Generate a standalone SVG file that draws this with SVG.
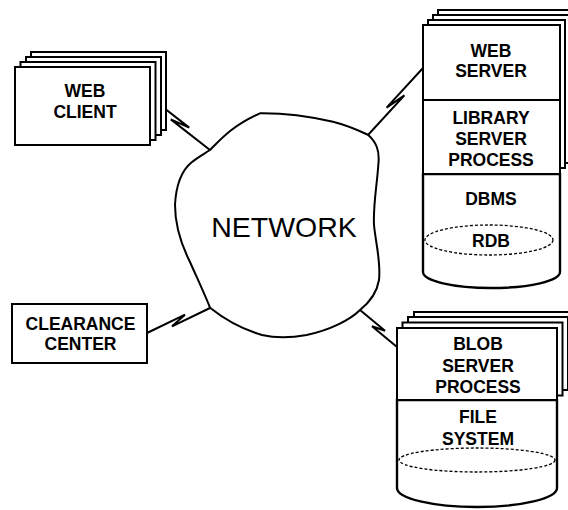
<svg xmlns="http://www.w3.org/2000/svg" width="568" height="510" viewBox="0 0 568 510">
<style>
.bx{fill:#fff;stroke:#000;stroke-width:2}
.cy{fill:#fff;stroke:#000;stroke-width:2.4}
.ln{fill:none;stroke:#000;stroke-width:2}
.ds{fill:none;stroke:#000;stroke-width:1.3;stroke-dasharray:3 2}
.lb{font-family:"Liberation Sans",Arial,sans-serif;font-weight:bold;font-size:17.5px;text-anchor:middle;fill:#000}
.nw{font-family:"Liberation Sans",Arial,sans-serif;font-size:28.5px;text-anchor:middle;fill:#000}
.cn{fill:none;stroke:#000;stroke-width:2;stroke-linejoin:miter}
</style>
<rect width="568" height="510" fill="#fff"/>
<g id="connectors">
<polyline class="cn" points="150,97 189.2,127.6 170.8,119.4 210,150"/>
<polyline class="cn" points="368,135 404.4,95.4 386.6,107.6 423,68"/>
<polyline class="cn" points="147,333 185,314.7 172,326.3 210,308"/>
<polyline class="cn" points="360,310 385,330.8 372,326.2 397,347"/>
</g>
<g id="network">
<path class="bx" d="M210,150 C222,138 232,126 260,113.3 C285,113 312,117 333,121.7 C350,126 360,131 368.3,135 C376,142 380,150 378.3,165 C377,185 373,205 374,225 C376,245 381,262 379,280 C377,292 370,302 360,310 C350,320 330,330 306.7,335 C290,338 275,338 262,335 C245,330 228,322 210,307.7 C205,295 198,280 190,262 C180,242 175,225 175,205 C176,185 182,170 192,162 C198,157 204,154 210,150 Z"/>
<text class="nw" x="284" y="237">NETWORK</text>
</g>
<g id="web-client">
<rect class="bx" x="31" y="52" width="135" height="78"/>
<rect class="bx" x="26" y="57" width="135" height="78"/>
<rect class="bx" x="20.5" y="62" width="135" height="78"/>
<rect class="bx" x="15" y="67" width="135" height="78"/>
<text class="lb" x="85" y="97">WEB</text>
<text class="lb" x="85" y="118">CLIENT</text>
</g>
<g id="clearance-center">
<rect class="bx" x="12" y="304" width="135" height="59"/>
<text class="lb" x="80.5" y="330">CLEARANCE</text>
<text class="lb" x="80.5" y="350">CENTER</text>
</g>
<g id="library-server">
<rect class="bx" x="438" y="10" width="137" height="148"/>
<rect class="bx" x="433" y="15" width="137" height="148"/>
<rect class="bx" x="428" y="20" width="137" height="148"/>
<path class="cy" d="M423,174 L423,272 A68.5,16 0 0 0 560,272 L560,174 Z"/>
<rect class="bx" x="423" y="25" width="137" height="149"/>
<line class="ln" x1="423" y1="100" x2="560" y2="100"/>
<ellipse class="ds" cx="489" cy="240" rx="64" ry="15"/>
<text class="lb" x="491" y="57">WEB</text>
<text class="lb" x="491" y="77">SERVER</text>
<text class="lb" x="491" y="124">LIBRARY</text>
<text class="lb" x="491" y="145">SERVER</text>
<text class="lb" x="491" y="166">PROCESS</text>
<text class="lb" x="491" y="205">DBMS</text>
<text class="lb" x="491" y="247">RDB</text>
</g>
<g id="blob-server">
<rect class="bx" x="414" y="312" width="160" height="73"/>
<rect class="bx" x="408" y="317" width="160" height="73"/>
<rect class="bx" x="402.5" y="322.5" width="160" height="73"/>
<path class="cy" d="M397,400 L397,488 A80,19 0 0 0 557,488 L557,400 Z"/>
<rect class="bx" x="397" y="328" width="160" height="72"/>
<ellipse class="ds" cx="477" cy="460" rx="78" ry="12"/>
<text class="lb" x="478" y="350">BLOB</text>
<text class="lb" x="478" y="372">SERVER</text>
<text class="lb" x="478" y="393">PROCESS</text>
<text class="lb" x="478" y="423">FILE</text>
<text class="lb" x="478" y="445">SYSTEM</text>
</g>
</svg>
